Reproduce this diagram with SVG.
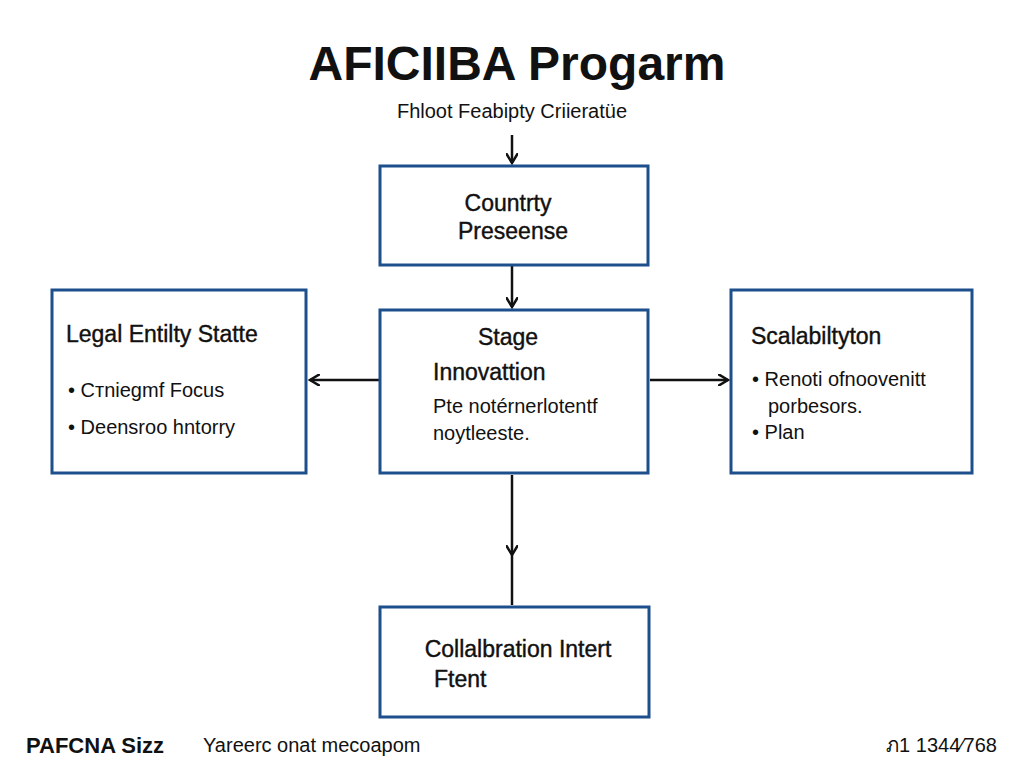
<svg xmlns="http://www.w3.org/2000/svg" width="1024" height="768" viewBox="0 0 1024 768">
<style>
.box{fill:#fff;stroke:#1d4f8c;stroke-width:3}
.h{font-family:"Liberation Sans",Arial,sans-serif;font-size:23px;fill:#111;stroke:#111;stroke-width:0.4}
.t{font-family:"Liberation Sans",Arial,sans-serif;font-size:20px;fill:#111}
.c{stroke:#111;stroke-width:2.5;fill:none}
</style>
<defs><marker id="a" markerWidth="12" markerHeight="12" refX="10" refY="6" orient="auto" markerUnits="userSpaceOnUse"><path d="M0,0 L10,6 L0,12" fill="none" stroke="#111" stroke-width="2.5"/></marker></defs>
<rect width="1024" height="768" fill="#fff"/>
<text x="517" y="80" text-anchor="middle" font-family="Liberation Sans,Arial,sans-serif" font-size="48" font-weight="bold" fill="#111">AFICIIBA Progarm</text>
<text x="512" y="118" text-anchor="middle" class="t" font-size="21">Fhloot Feabipty Criieratüe</text>
<g id="connectors">
<line class="c" x1="512" y1="135" x2="512" y2="163" marker-end="url(#a)"/>
<line class="c" x1="512" y1="266" x2="512" y2="307" marker-end="url(#a)"/>
<line class="c" x1="380" y1="380" x2="310" y2="380" marker-end="url(#a)"/>
<line class="c" x1="650" y1="380" x2="728" y2="380" marker-end="url(#a)"/>
<line class="c" x1="512" y1="475" x2="512" y2="555" marker-end="url(#a)"/>
<line class="c" x1="512" y1="555" x2="512" y2="605"/>
</g>
<g id="n1"><rect class="box" x="380" y="166" width="268" height="99"/>
<text x="508" y="211" text-anchor="middle" class="h">Countrty</text>
<text x="513" y="239" text-anchor="middle" class="h">Preseense</text></g>
<g id="n2"><rect class="box" x="52" y="290" width="254" height="183"/>
<text x="66" y="342" class="h">Legal Entilty Statte</text>
<text x="68" y="397" class="t">•  Cтniegmf Focus</text>
<text x="68" y="434" class="t">•  Deensroo hntorry</text></g>
<g id="n3"><rect class="box" x="380" y="310" width="268" height="163"/>
<text x="508" y="345" text-anchor="middle" class="h">Stage</text>
<text x="433" y="380" class="h">Innovattion</text>
<text x="433" y="413" class="t">Pte notérnerlotentf</text>
<text x="433" y="440" class="t">noytleeste.</text></g>
<g id="n4"><rect class="box" x="731" y="290" width="241" height="183"/>
<text x="751" y="344" class="h">Scalabiltyton</text>
<text x="752" y="386" class="t">•  Renoti ofnoovenitt</text>
<text x="768" y="413" class="t">porbesors.</text>
<text x="752" y="439" class="t">•  Plan</text></g>
<g id="n5"><rect class="box" x="380" y="607" width="269" height="110"/>
<text x="518" y="657" text-anchor="middle" class="h">Collalbration Intert</text>
<text x="434" y="687" class="h">Ftent</text></g>
<text x="26" y="753" font-family="Liberation Sans,Arial,sans-serif" font-size="22" font-weight="bold" fill="#111">PAFCNA Sizz</text>
<text x="203" y="752" class="t" font-size="16">Yareerc onat mecoapom</text>
<text x="997" y="752" text-anchor="end" class="t">ภ1 1344⁄768</text>
</svg>
